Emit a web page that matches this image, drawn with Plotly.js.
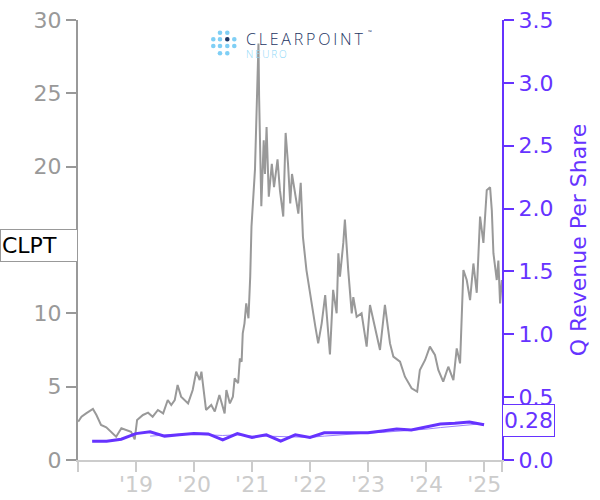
<!DOCTYPE html>
<html>
<head>
<meta charset="utf-8">
<script src="https://cdn.plot.ly/plotly-3.0.1.min.js"></script>
<style>html,body{margin:0;padding:0;background:#fff;}#chart{width:600px;height:500px;}</style>
</head>
<body>
<div id="chart"></div>
<script>
// ---- Data ----
var priceDates = [
'2018-01-02','2018-01-23','2018-02-21','2018-04-05','2018-04-27','2018-05-26','2018-06-28','2018-07-27','2018-08-29','2018-10-01','2018-10-30','2018-12-01','2018-12-24',
'2019-01-08','2019-02-14','2019-03-18','2019-04-16','2019-05-19','2019-06-21','2019-07-20','2019-08-11','2019-09-02','2019-09-20','2019-10-12','2019-11-25','2019-12-24',
'2020-01-15','2020-02-06','2020-02-17','2020-03-03','2020-03-17','2020-04-19','2020-05-11','2020-06-09','2020-07-12','2020-07-23','2020-08-14','2020-09-02','2020-09-13','2020-10-05','2020-10-16','2020-10-27','2020-11-03','2020-11-14','2020-11-25','2020-12-09','2020-12-20','2020-12-28',
'2021-01-19','2021-01-30','2021-02-10','2021-02-14','2021-02-28','2021-03-15','2021-03-23','2021-04-02','2021-04-16','2021-05-05','2021-05-19','2021-06-10','2021-06-25','2021-07-16','2021-07-31','2021-08-15','2021-08-29','2021-09-09','2021-09-27','2021-10-19','2021-11-03','2021-11-17','2021-12-09',
'2022-01-03','2022-02-03','2022-02-21','2022-03-15','2022-04-06','2022-04-20','2022-05-06','2022-05-26','2022-06-17','2022-06-28','2022-07-08','2022-07-29','2022-08-08','2022-08-29','2022-09-20','2022-09-30','2022-10-21','2022-11-21','2022-12-23',
'2023-01-13','2023-02-14','2023-03-17','2023-04-17','2023-05-19','2023-06-09','2023-07-21','2023-08-21','2023-10-02','2023-11-06','2023-11-23','2023-12-26',
'2024-01-25','2024-02-26','2024-03-18','2024-04-18','2024-05-20','2024-06-21','2024-07-12','2024-08-02','2024-08-23','2024-09-13','2024-10-04','2024-10-25','2024-11-15','2024-12-06','2024-12-27',
'2025-01-17','2025-02-07','2025-02-18','2025-02-28','2025-03-21','2025-03-31','2025-04-11','2025-04-22'
];
var priceValues = [
2.61,2.95,3.18,3.48,3.07,2.39,2.23,1.93,1.59,2.16,2.05,1.93,1.41,
2.73,3.07,3.23,2.95,3.41,3.18,4.09,3.75,4.09,5.11,4.32,3.86,4.77,
6.02,5.45,6.02,4.77,3.41,3.75,3.30,4.43,3.18,4.77,3.86,4.32,5.57,5.23,6.93,6.70,8.64,9.32,10.68,9.66,12.5,15.9,
19.8,24.1,28.4,24.8,17.3,21.8,19.5,22.7,17.95,20.2,18.6,20.5,18.4,16.6,22.3,20.2,17.5,19.5,18.2,16.8,18.9,15.2,12.95,
11.1,9.09,7.95,9.32,11.25,9.32,7.2,11.6,10.0,14.1,12.5,14.8,16.4,12.95,10.0,11.1,9.77,10.0,7.73,
10.57,9.09,7.5,10.57,7.95,7.05,6.70,5.68,4.89,4.66,6.14,6.82,
7.73,7.16,6.14,5.34,6.36,5.45,7.61,6.59,12.95,12.27,10.9,13.4,11.4,16.6,14.8,
18.4,18.6,17.0,14.1,12.27,13.6,10.68,12.27
];
var revDates = [
'2018-03-31','2018-06-30','2018-09-30','2018-12-31','2019-03-31','2019-06-30','2019-09-30','2019-12-31',
'2020-03-31','2020-06-30','2020-09-30','2020-12-31','2021-03-31','2021-06-30','2021-09-30','2021-12-31',
'2022-03-31','2022-06-30','2022-09-30','2022-12-31','2023-03-31','2023-06-30','2023-09-30','2023-12-31',
'2024-03-31','2024-06-30','2024-09-30','2024-12-31'
];
var revValues = [
0.15,0.15,0.165,0.21,0.225,0.19,0.20,0.21,
0.207,0.16,0.21,0.18,0.20,0.15,0.20,0.18,
0.217,0.217,0.212,0.217,0.231,0.247,0.239,0.26,
0.286,0.292,0.302,0.28
];
var revAvgDates = revDates.slice(4);
var revAvgValues = [
0.19,0.20,0.205,0.205,0.20,0.195,0.20,0.19,0.19,0.185,0.185,0.18,
0.19,0.20,0.207,0.215,0.22,0.227,0.234,0.245,0.258,0.27,0.28,0.29
];
var xTickVals = ['2018-01-01','2019-01-01','2020-01-01','2021-01-01','2022-01-01','2023-01-01','2024-01-01','2025-01-01','2025-04-23'];
var xTickText = ['',"'19","'20","'21","'22","'23","'24","'25",''];
var yTickVals = [0, 5, 10, 15, 20, 25, 30];
var yTickText = ['0', '5', '10', '', '20', '25', '30'];
var ticker = 'CLPT';
var lastRevLabel = '0.28';
var tickerLabelLevel = 14.6;
var lastRevLevel = 0.28;
var logoMain = 'CLEARPOINT';
var logoSub = 'NEURO';

// ---- Styles ----
var PURPLE = '#6633ff';
var GREY = '#999999';
var FONT = 'DejaVu Sans, sans-serif';

var traces = [
  {x: priceDates, y: priceValues, type: 'scatter', mode: 'lines', yaxis: 'y',
   line: {color: GREY, width: 2}, hoverinfo: 'skip'},
  {x: revAvgDates, y: revAvgValues, type: 'scatter', mode: 'lines', yaxis: 'y2',
   line: {color: '#9c80ff', width: 1}, hoverinfo: 'skip'},
  {x: revDates, y: revValues, type: 'scatter', mode: 'lines', yaxis: 'y2',
   line: {color: PURPLE, width: 3}, hoverinfo: 'skip'}
];

// logo helpers (pixel -> paper)
var ML = 78, MT = 20, PW = 424, PH = 440;
function px(x){ return (x - ML) / PW; }
function py(y){ return (MT + PH - y) / PH; }
var dotCols = [213.3, 220, 227.3, 234.3];
var dotRows = [32.7, 39.3, 46, 53.3];
var dotPattern = [[0,1,1,0],[1,1,2,1],[1,1,1,1],[0,1,1,0]];
var shapes = [];
var r = 2.3;
for (var i = 0; i < 4; i++) {
  for (var j = 0; j < 4; j++) {
    var k = dotPattern[i][j];
    if (!k) continue;
    shapes.push({type: 'circle', xref: 'paper', yref: 'paper',
      x0: px(dotCols[j]-r), x1: px(dotCols[j]+r), y0: py(dotRows[i]+r), y1: py(dotRows[i]-r),
      fillcolor: k === 2 ? '#1d3563' : '#7fcff5', line: {width: 0}, layer: 'above'});
  }
}

var layout = {
  width: 600, height: 500,
  margin: {l: 78, r: 98, t: 20, b: 40, pad: 0},
  paper_bgcolor: '#ffffff', plot_bgcolor: '#ffffff',
  showlegend: false,
  font: {family: FONT, size: 22},
  xaxis: {
    type: 'date', range: ['2018-01-01', '2025-04-23'],
    tickvals: xTickVals, ticktext: xTickText,
    showgrid: false, zeroline: false,
    showline: true, linecolor: '#cccccc', linewidth: 2,
    ticks: 'outside', ticklen: 10, tickwidth: 2, tickcolor: '#cccccc',
    ticklabelstandoff: -6,
    tickfont: {family: FONT, size: 22, color: '#cccccc'}
  },
  yaxis: {
    range: [0, 30], tickvals: yTickVals, ticktext: yTickText,
    showgrid: false, zeroline: false,
    showline: true, linecolor: GREY, linewidth: 2,
    ticks: 'outside', ticklen: 10, tickwidth: 2, tickcolor: GREY,
    tickfont: {family: FONT, size: 22, color: GREY}
  },
  yaxis2: {
    overlaying: 'y', side: 'right', anchor: 'x',
    range: [0, 3.5], dtick: 0.5, tick0: 0, tickformat: '.1f',
    showgrid: false, zeroline: false,
    showline: true, linecolor: PURPLE, linewidth: 2,
    ticks: 'outside', ticklen: 10, tickwidth: 2, tickcolor: PURPLE,
    tickfont: {family: FONT, size: 22, color: PURPLE},
    title: {text: 'Q Revenue Per Share', font: {family: FONT, size: 22, color: PURPLE}, standoff: 18}
  },
  shapes: shapes,
  annotations: [
    {xref: 'paper', yref: 'y', x: 0, y: tickerLabelLevel, xanchor: 'right', yanchor: 'middle',
     text: ticker, showarrow: false, align: 'left', width: 74, height: 29,
     bgcolor: '#ffffff', bordercolor: GREY, borderwidth: 1, borderpad: 1,
     font: {family: FONT, size: 22, color: '#000000'}},
    {xref: 'paper', yref: 'y2', x: 1, y: lastRevLevel, xanchor: 'left', yanchor: 'middle',
     text: lastRevLabel, showarrow: false, height: 29, yshift: 4,
     bgcolor: '#ffffff', bordercolor: PURPLE, borderwidth: 1, borderpad: 1,
     font: {family: FONT, size: 22, color: PURPLE}},
    {xref: 'paper', yref: 'paper', x: px(244), y: py(26), xanchor: 'left', yanchor: 'top',
     align: 'left', showarrow: false, borderpad: 1,
     text: '<span style="font-size:16px;color:#1d3563">' + logoMain + '</span><br>' +
           '<span style="font-size:10px;color:#8fd8f8">' + logoSub + '</span>',
     font: {family: 'Open Sans, sans-serif', size: 10, weight: 300, color: '#1d3563'}},
    {xref: 'paper', yref: 'paper', x: px(367), y: py(32), xanchor: 'left', yanchor: 'middle',
     text: '™', showarrow: false, height: 5, borderpad: 0,
     font: {family: 'Open Sans, sans-serif', size: 5, color: '#1d3563'}}
  ]
};

Plotly.newPlot('chart', traces, layout, {displayModeBar: false, staticPlot: true}).then(function(gd){
  var spans = gd.querySelectorAll('.annotation-text tspan');
  spans.forEach(function(t){
    if (t.children.length) return;
    var s = t.textContent;
    if (s === logoMain) t.style.letterSpacing = '2.8px';
    if (s === logoSub) t.style.letterSpacing = '1.8px';
  });
});
</script>
</body>
</html>
